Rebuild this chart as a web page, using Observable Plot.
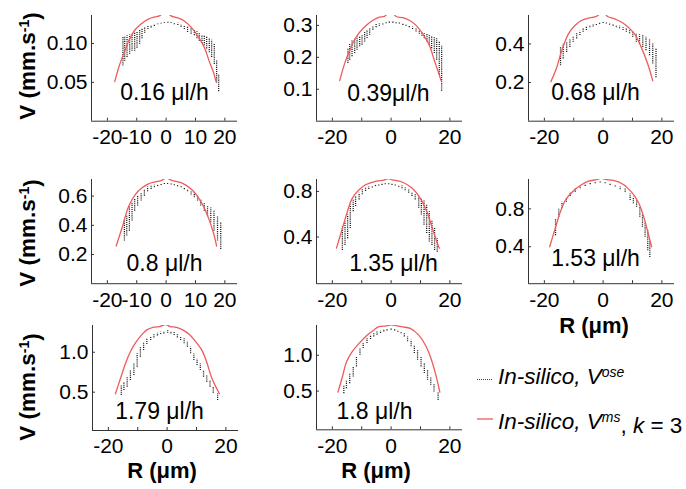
<!DOCTYPE html>
<html><head><meta charset="utf-8">
<script src="https://cdn.jsdelivr.net/npm/d3@7"></script>
<script src="https://cdn.jsdelivr.net/npm/@observablehq/plot@0.6"></script>
<style>
body{margin:0;background:#fff;}
#c{position:relative;width:686px;height:489px;overflow:hidden;font-family:"Liberation Sans",Arial,sans-serif;background:#fff;}
#c svg.pl{position:absolute;overflow:visible;}
#ov{position:absolute;left:0;top:0;}
</style></head><body><div id="c"></div>
<script>
// ---- data ----
const xTicks = [-20, -10, 0, 10, 20];
const xLabelsAll = [-20, -10, 0, 10, 20];
const xLabelsSparse = [-20, 0, 20];

const p1R  = [-14.7,-14.1,-13.3,-12.4,-11.6,-10.7,-9.9,-9.0,-8.2,-7.3,-6.2,-5.1,-4.0,-2.8,-1.7,-0.6,0.6,1.7,2.8,4.0,5.1,6.2,7.3,8.5,9.6,10.5,11.3,12.2,13.0,13.8,14.7,15.5,16.4,17.2,17.9];
const p1Hi = [0.108,0.108,0.110,0.111,0.112,0.113,0.114,0.117,0.119,0.121,0.122,0.123,0.124,0.125,0.126,0.127,0.128,0.127,0.126,0.126,0.124,0.122,0.121,0.119,0.117,0.115,0.113,0.111,0.110,0.108,0.106,0.104,0.099,0.078,0.060];
const p1Lo = [0.071,0.077,0.082,0.086,0.090,0.090,0.094,0.099,0.106,0.113,0.118,0.120,0.122,0.124,0.125,0.126,0.126,0.126,0.124,0.123,0.121,0.118,0.114,0.112,0.110,0.106,0.103,0.100,0.097,0.093,0.088,0.082,0.073,0.049,0.038];
const p1RedR = [-17.5,-15.8,-14.1,-12.4,-10.7,-8.5,-6.2,-4.0,-2.3,0,1.7,4.0,6.2,8.5,10.7,13.0,14.7,16.2,17.0];
const p1RedV = [0.051,0.073,0.090,0.106,0.117,0.125,0.131,0.134,0.1355,0.141,0.1355,0.133,0.129,0.121,0.110,0.095,0.077,0.062,0.051];

const p2R  = [-14.7,-14.1,-13.3,-12.4,-11.6,-10.7,-9.9,-9.0,-8.2,-7.3,-6.2,-5.1,-4.0,-2.8,-1.7,-0.6,0.6,1.7,2.8,4.0,5.1,6.2,7.3,8.5,9.6,10.5,11.3,12.2,13.0,13.8,14.7,15.5,16.4,17.2];
const p2Hi = [0.228,0.243,0.251,0.259,0.264,0.266,0.269,0.279,0.284,0.290,0.297,0.303,0.305,0.307,0.310,0.312,0.312,0.310,0.308,0.305,0.302,0.299,0.295,0.290,0.282,0.279,0.274,0.272,0.269,0.266,0.262,0.259,0.248,0.235];
const p2Lo = [0.181,0.191,0.202,0.212,0.222,0.233,0.238,0.248,0.259,0.269,0.285,0.293,0.297,0.301,0.305,0.307,0.307,0.305,0.304,0.300,0.297,0.293,0.287,0.279,0.272,0.266,0.258,0.248,0.238,0.227,0.212,0.191,0.145,0.094];
const p2RedR = [-17.5,-15.8,-14.1,-12.4,-10.7,-8.5,-6.2,-4.0,-2.3,0,1.7,4.0,6.2,8.5,10.7,13.0,14.7,16.2,17.0];
const p2RedV = [0.127,0.181,0.222,0.256,0.279,0.300,0.316,0.326,0.328,0.345,0.328,0.324,0.316,0.300,0.274,0.238,0.191,0.150,0.127];

const p3R  = [-14.5,-13.6,-12.4,-11.3,-10.2,-9.0,-7.9,-6.8,-5.7,-4.5,-3.4,-2.3,-1.2,0,1.1,2.2,3.4,4.5,5.6,6.8,7.9,9.0,10.1,11.3,12.4,13.5,14.6,15.8,16.9,18.0];
const p3Hi = [0.382,0.400,0.408,0.426,0.434,0.452,0.466,0.478,0.486,0.495,0.500,0.505,0.509,0.512,0.510,0.505,0.500,0.495,0.491,0.483,0.478,0.469,0.460,0.452,0.447,0.443,0.434,0.426,0.400,0.374];
const p3Lo = [0.287,0.322,0.356,0.382,0.408,0.426,0.443,0.460,0.469,0.483,0.487,0.495,0.501,0.505,0.503,0.497,0.492,0.483,0.478,0.469,0.460,0.452,0.434,0.408,0.400,0.382,0.365,0.339,0.296,0.225];
const p3RedR = [-17.8,-15.8,-14.1,-11.8,-9.6,-7.4,-4.6,-2.3,0,1.5,3.9,6.2,8.5,10.7,13.0,15.2,16.9];
const p3RedV = [0.204,0.278,0.365,0.452,0.495,0.521,0.535,0.542,0.565,0.542,0.530,0.513,0.487,0.452,0.382,0.296,0.209];

const p4R  = [-14.2,-13.4,-12.5,-11.6,-10.7,-9.7,-8.5,-7.4,-6.3,-5.1,-4.0,-2.9,-1.7,-0.6,0.5,1.7,2.8,3.9,5.1,6.2,7.3,8.5,9.6,10.7,11.8,13.0,14.1,15.2,16.3,17.5,18.6];
const p4Hi = [0.440,0.463,0.532,0.554,0.577,0.600,0.623,0.646,0.662,0.671,0.675,0.680,0.684,0.687,0.687,0.684,0.680,0.675,0.669,0.657,0.646,0.634,0.623,0.600,0.577,0.554,0.532,0.520,0.497,0.463,0.417];
const p4Lo = [0.292,0.326,0.360,0.429,0.497,0.532,0.566,0.600,0.630,0.646,0.657,0.666,0.673,0.680,0.680,0.676,0.671,0.664,0.657,0.644,0.630,0.607,0.589,0.566,0.532,0.497,0.463,0.417,0.360,0.292,0.235];
const p4RedR = [-17.0,-15.0,-12.7,-10.5,-8.2,-6.0,-3.7,-1.5,0,1.9,5.3,8.7,12.1,14.4,16.1,17.2];
const p4RedV = [0.258,0.383,0.532,0.611,0.657,0.684,0.698,0.708,0.725,0.708,0.691,0.646,0.554,0.451,0.349,0.258];

const p5R  = [-16.6,-15.7,-14.8,-13.9,-12.9,-12.1,-10.9,-9.8,-8.7,-7.6,-6.4,-5.3,-4.2,-3.1,-2.0,-0.8,0.3,1.4,2.6,3.7,4.8,6.0,7.1,8.2,9.4,10.3,11.2,12.1,13.0,13.9,14.8,15.7];
const p5Hi = [0.489,0.533,0.593,0.681,0.726,0.756,0.785,0.815,0.830,0.842,0.848,0.853,0.859,0.865,0.868,0.868,0.865,0.859,0.853,0.848,0.830,0.815,0.794,0.770,0.756,0.741,0.726,0.681,0.622,0.548,0.474,0.385];
const p5Lo = [0.282,0.326,0.385,0.474,0.622,0.667,0.726,0.770,0.800,0.818,0.830,0.843,0.848,0.853,0.859,0.859,0.853,0.848,0.837,0.823,0.806,0.785,0.756,0.726,0.652,0.593,0.504,0.430,0.356,0.326,0.282,0.267];
const p5RedR = [-18.6,-16.6,-14.9,-13.2,-10.9,-8.7,-5.3,-2.5,-1.0,0.3,3.7,7.1,9.9,12.2,13.9,15.6,16.4];
const p5RedV = [0.302,0.474,0.622,0.741,0.815,0.859,0.889,0.900,0.912,0.902,0.883,0.830,0.741,0.622,0.489,0.356,0.302];

const p6R  = [-16.2,-15.1,-14.0,-12.5,-11.2,-9.5,-7.8,-6.1,-4.4,-2.7,-1.0,0.7,2.4,4.1,5.8,7.5,9.2,10.3,11.4,12.5,13.4,14.3,15.2,15.9];
const p6Hi = [0.694,0.800,0.870,0.917,0.976,1.012,1.037,1.058,1.072,1.082,1.086,1.079,1.065,1.047,1.030,1.012,0.959,0.923,0.888,0.817,0.747,0.658,0.570,0.464];
const p6Lo = [0.517,0.711,0.800,0.870,0.930,0.976,1.012,1.037,1.055,1.065,1.072,1.065,1.047,1.030,1.002,0.976,0.888,0.853,0.817,0.711,0.605,0.499,0.358,0.286];
const p6RedR = [-18.2,-16.2,-14.6,-12.9,-10.6,-7.8,-5.0,-2.2,-0.8,0.7,3.5,6.9,9.7,12.0,13.7,15.4,16.5];
const p6RedV = [0.400,0.605,0.764,0.888,0.976,1.047,1.093,1.108,1.125,1.111,1.100,1.058,0.976,0.870,0.729,0.535,0.400];

const p7R  = [-15.6,-14.7,-13.6,-12.5,-11.3,-10.2,-9.1,-8.0,-6.9,-5.6,-4.5,-3.3,-2.2,-1.1,0.2,1.3,2.4,3.5,4.6,5.8,6.9,8.0,9.1,10.2,11.3,12.4,13.5,14.6,15.7,17.2];
const p7Hi = [0.584,0.625,0.688,0.771,0.855,0.980,1.063,1.125,1.168,1.196,1.221,1.238,1.250,1.259,1.271,1.259,1.246,1.221,1.188,1.168,1.125,1.063,0.980,0.917,0.855,0.771,0.709,0.646,0.563,0.480];
const p7Lo = [0.459,0.521,0.563,0.646,0.709,0.813,0.938,1.021,1.096,1.146,1.180,1.205,1.221,1.230,1.238,1.230,1.209,1.180,1.146,1.105,1.063,0.980,0.896,0.834,0.771,0.688,0.625,0.563,0.488,0.396];
const p7RedR = [-17.6,-16.1,-14.2,-12.6,-11.0,-8.9,-6.9,-4.8,-2.6,-0.5,1.1,3.2,5.3,7.6,9.6,11.9,13.5,15.1,17.8];
const p7RedV = [0.480,0.646,0.855,1.000,1.105,1.209,1.280,1.313,1.321,1.345,1.321,1.313,1.280,1.221,1.138,1.021,0.875,0.688,0.480];

const p8R  = [-16.1,-15.2,-14.1,-12.9,-11.8,-10.6,-9.5,-8.2,-7.0,-5.9,-4.8,-3.6,-2.5,-1.4,0,1.2,2.3,3.4,4.5,5.6,6.8,7.9,9.0,10.2,11.3,12.4,13.5,14.6,16.0];
const p8Hi = [0.580,0.650,0.744,0.837,0.976,1.094,1.163,1.233,1.280,1.304,1.326,1.340,1.360,1.368,1.374,1.365,1.350,1.326,1.304,1.256,1.210,1.140,1.070,0.976,0.883,0.790,0.696,0.604,0.486];
const p8Lo = [0.464,0.534,0.604,0.696,0.837,1.000,1.094,1.163,1.220,1.256,1.280,1.304,1.326,1.340,1.350,1.340,1.320,1.300,1.256,1.187,1.117,1.023,0.930,0.837,0.744,0.650,0.580,0.486,0.370];
const p8RedR = [-18.1,-16.6,-15.2,-13.3,-11.0,-8.2,-5.9,-4.2,-1.5,0,2.0,4.0,6.5,9.4,11.7,13.4,15.1,16.6];
const p8RedV = [0.486,0.696,0.907,1.047,1.163,1.280,1.350,1.400,1.410,1.425,1.410,1.395,1.374,1.280,1.140,0.976,0.744,0.486];

const flowLabels = ["0.16 μl/h","0.39μl/h","0.68 μl/h","0.8 μl/h","1.35 μl/h","1.53 μl/h","1.79 μl/h","1.8 μl/h"];

// ---- layout / styling ----
const f2 = d => d.toFixed(2), f1 = d => d.toFixed(1);
const panels = [
  {R:p1R,hi:p1Hi,lo:p1Lo,rR:p1RedR,rV:p1RedV,yd:[0,0.136],yt:[0.05,0.10],yf:f2,xl:xLabelsAll,left:91,top:15,h:105.7,ldx:0,ldy:-29},
  {R:p2R,hi:p2Hi,lo:p2Lo,rR:p2RedR,rV:p2RedV,yd:[0,0.331],yt:[0.1,0.2,0.3],yf:f1,xl:xLabelsSparse,left:315.5,top:15,h:105.7,ldx:-1,ldy:-28},
  {R:p3R,hi:p3Hi,lo:p3Lo,rR:p3RedR,rV:p3RedV,yd:[0,0.547],yt:[0.2,0.4],yf:f1,xl:xLabelsSparse,left:527.7,top:15,h:105.7,ldx:-6,ldy:-29},
  {R:p4R,hi:p4Hi,lo:p4Lo,rR:p4RedR,rV:p4RedV,yd:[0,0.714],yt:[0.2,0.4,0.6],yf:f1,xl:xLabelsAll,left:91,top:178.5,h:104.2,ldx:0,ldy:-20},
  {R:p5R,hi:p5Hi,lo:p5Lo,rR:p5RedR,rV:p5RedV,yd:[-0.01,0.905],yt:[0.4,0.8],yf:f1,xl:xLabelsSparse,left:315.7,top:178.5,h:104.2,ldx:4,ldy:-20},
  {R:p6R,hi:p6Hi,lo:p6Lo,rR:p6RedR,rV:p6RedV,yd:[0.01,1.11],yt:[0.4,0.8],yf:f1,xl:xLabelsSparse,left:527.7,top:178.5,h:104.2,ldx:-6,ldy:-25},
  {R:p7R,hi:p7Hi,lo:p7Lo,rR:p7RedR,rV:p7RedV,yd:[0.02,1.335],yt:[0.5,1.0],yf:f1,xl:xLabelsSparse,left:91.7,top:325,h:105,ldx:-6,ldy:-19},
  {R:p8R,hi:p8Hi,lo:p8Lo,rR:p8RedR,rV:p8RedV,yd:[-0.04,1.415],yt:[0.5,1.0],yf:f1,xl:xLabelsSparse,left:315.7,top:325,h:104.3,ldx:-15,ldy:-18.5}
];
const xDomain = [-25.4, 24.3];
const W = 146, ML = 60, MR = 14, MT = 6, MB = 34;
const AX = "#333";
const root = document.getElementById("c");

panels.forEach((p, k) => {
  const cols = p.R.map((r, i) => ({R: r, lo: p.lo[i], hi: p.hi[i]}));
  const red = p.rR.map((r, i) => ({R: r, V: p.rV[i]}));
  const svg = Plot.plot({
    width: ML + W + MR, height: MT + p.h + MB,
    marginLeft: ML, marginRight: MR, marginTop: MT, marginBottom: MB,
    x: {domain: xDomain, label: null},
    y: {domain: p.yd, label: null},
    style: {fontFamily: '"Liberation Sans", Arial, sans-serif', fontSize: "21px", color: "#000", background: "transparent", overflow: "visible"},
    marks: [
      Plot.ruleX(cols, {x: "R", y1: "lo", y2: "hi", stroke: "#1a1a1a", strokeWidth: 1.25, strokeDasharray: "1.1,1"}),
      Plot.line(red, {x: "R", y: "V", stroke: "#f05a5a", strokeWidth: 1.3, curve: "catmull-rom", clip: true}),
      Plot.ruleX([xDomain[0]], {stroke: AX, strokeWidth: 1}),
      Plot.ruleY([p.yd[0]], {stroke: AX, strokeWidth: 1}),
      Plot.axisX({ticks: xTicks, tickSize: -3, text: null, stroke: AX, label: null}),
      Plot.axisX({ticks: p.xl, tickSize: 0, tickPadding: 8, tickFormat: d => String(d), label: null, fontSize: 21}),
      Plot.axisY({ticks: p.yt, tickSize: -3, text: null, stroke: AX, label: null}),
      Plot.axisY({ticks: p.yt, tickSize: 0, tickPadding: 4, tickFormat: p.yf, label: null, fontSize: 21}),
      Plot.text([flowLabels[k]], {text: d => d, frameAnchor: "bottom", dx: p.ldx, dy: p.ldy, lineAnchor: "middle", fontSize: 23, fill: "#000"})
    ]
  });
  svg.classList.add("pl");
  svg.style.left = (p.left - ML) + "px";
  svg.style.top = (p.top - MT) + "px";
  root.appendChild(svg);
});

// ---- axis titles and legend ----
const ns = "http://www.w3.org/2000/svg";
const ov = document.createElementNS(ns, "svg");
ov.setAttribute("id", "ov");
ov.setAttribute("width", 686); ov.setAttribute("height", 489);
const yTitleY = [66, 233, 387];
const xTitles = [[594, 325], [162, 470], [376, 470]];
let html = "";
yTitleY.forEach(y => {
  html += `<text transform="translate(27,${y}) rotate(-90)" text-anchor="middle" dy="0.35em" font-weight="bold" font-size="22.5">V (mm.s<tspan dy="-0.45em" font-size="14">-1</tspan><tspan dy="0.45em">)</tspan></text>`;
});
xTitles.forEach(([x, y]) => {
  html += `<text x="${x}" y="${y}" text-anchor="middle" dy="0.35em" font-weight="bold" font-size="22">R (μm)</text>`;
});
html += `<line x1="477" x2="493" y1="379.5" y2="379.5" stroke="#444" stroke-width="1" stroke-dasharray="1,1"/>`;
html += `<text x="498" y="383.5" font-size="22.5" font-style="italic">In-silico, V<tspan dy="-0.5em" font-size="14">ose</tspan></text>`;
html += `<line x1="477" x2="493" y1="419" y2="419" stroke="#f05a5a" stroke-width="1.3"/>`;
html += `<text x="498" y="428.5" font-size="22.5"><tspan font-style="italic">In-silico, V</tspan><tspan dy="-0.5em" font-size="14" font-style="italic">ms</tspan><tspan dy="0.5em">, </tspan><tspan font-style="italic">k</tspan> = 3</text>`;
ov.innerHTML = html;
ov.style.fontFamily = '"Liberation Sans", Arial, sans-serif';
root.appendChild(ov);
</script>
</body></html>
